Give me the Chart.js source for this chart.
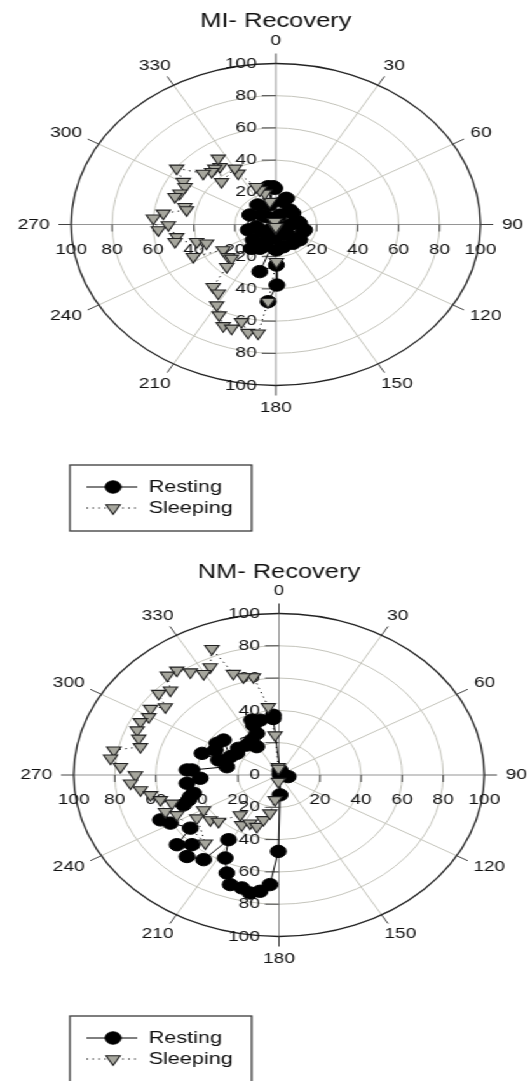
<!DOCTYPE html>
<html lang="en">
<head>
<meta charset="UTF-8">
<title>MI / NM Recovery</title>
<script src="https://cdn.jsdelivr.net/npm/chart.js"></script>
<style>
  body { margin: 0; background: #fff; }
  /* the figure is a polar plot stretched sideways, so draw it round and stretch it */
  #wrap { width: 417px; transform: scaleX(1.271); transform-origin: 0 0; }
  canvas { display: block; }
</style>
</head>
<body>
<div id="wrap">
  <canvas id="miChart" width="417" height="551"></canvas>
  <canvas id="nmChart" width="417" height="530"></canvas>
</div>
<script>
// angle ticks, degrees clockwise from north
const angleTicks = [0, 30, 60, 90, 120, 150, 180, 210, 240, 270, 300, 330];
const radialTicks = [0, 20, 40, 60, 80, 100];
const seriesNames = ['Resting', 'Sleeping'];

// MI- Recovery
const miRestAngle = [150, 350.8, 358.7, 14.2, 37, 81, 108.7, 133.5, 165.4, 204.2, 218.8, 255.9, 261.5, 316.8, 324, 295, 18.7, 50.2, 86.6, 103.6, 129, 144.3, 138, 179, 202, 207.8, 229, 235, 220, 137, 92.5, 17.7, 356.8, 346.5, 311, 180, 195, 179.3, 179.2, 184.5];
const miRestRadius = [1, 23.8, 22.5, 14.6, 11.3, 11, 14, 13.9, 14.3, 15.1, 19, 13.9, 9.5, 6.6, 15, 14, 6.2, 10.9, 11.7, 14.5, 15.1, 14.4, 8.8, 15.8, 10.4, 16.7, 14.7, 8.3, 4.5, 6.4, 6.8, 17.1, 23.5, 12.5, 9, 8.4, 30.3, 25.2, 37.6, 48.1];
const miSleepAngle = [180, 344, 348.5, 344.5, 340, 338, 330, 330.2, 315, 322.7, 319.5, 316.3, 325.6, 311.8, 305.8, 300.5, 297.9, 292.5, 289.3, 284, 281.7, 277.2, 273.7, 266.6, 269.7, 261, 257.8, 254.5, 251, 243.6, 238.4, 229.4, 225.8, 222.5, 218.4, 213.4, 210, 206.2, 202.2, 198.5, 195.5, 191.4, 187.3, 184.5, 179.2, 180];
const miSleepRadius = [2.2, 1.8, 14.5, 20.1, 22.8, 25.3, 36.7, 40.2, 37.5, 45.1, 45.9, 45.4, 49.8, 47.6, 59.7, 52.5, 50.2, 50.7, 52.2, 45.8, 44.5, 55.4, 60, 57.5, 52.5, 49, 50.4, 40.1, 35.8, 45, 30.2, 30.7, 30.1, 35.5, 49.3, 51.1, 57.8, 62.7, 68, 68, 62.7, 68.5, 68.1, 48.1, 23.1, 1.4];

// NM- Recovery
const nmRestAngle = [26, 102.5, 9, 355.4, 355.7, 344.9, 338.6, 338, 337.2, 328.4, 319.7, 328.3, 309.8, 303.2, 295.4, 308.7, 303, 296.3, 289.7, 287.5, 281.4, 274.2, 274, 267, 263.5, 254.8, 252.8, 250.7, 248.3, 240.6, 244.3, 232.7, 229, 224.5, 221.6, 215, 211.5, 207, 202.7, 199.3, 194.5, 190.9, 187.3, 183.7, 180.4, 177.7, 90];
const nmRestRadius = [1.1, 4.6, 3.1, 35.1, 37.1, 35.2, 36.5, 33.3, 27.9, 25.4, 24.3, 20.6, 25.8, 24.5, 26.3, 34.6, 36, 34.7, 39.8, 30.9, 25.9, 42.5, 44.9, 38.4, 45.1, 43.1, 45.2, 46.6, 50, 60.7, 64.1, 54.3, 65.8, 60.5, 67.5, 64, 47, 57.7, 65.8, 71.9, 72.2, 74.4, 72.6, 68, 47.3, 12.3, 0.6];
const nmSleepAngle = [356.6, 355.6, 353, 348.4, 344.1, 340.5, 337.3, 333.4, 329.7, 325.9, 322.5, 318.6, 314.8, 310.7, 307.3, 303.3, 299.6, 296, 291.9, 288.4, 284.5, 280.8, 277.2, 273.8, 270, 266, 262.2, 258.9, 255.1, 251.4, 247.7, 243.6, 220.4, 236.3, 239.5, 230.3, 225.7, 217.4, 210.4, 205.3, 198.7, 195.3, 190.6, 187, 184, 356];
const nmSleepRadius = [5.1, 24.8, 42.5, 62, 63.1, 66.6, 84.8, 74.8, 72.7, 77, 81.7, 82.3, 74.5, 77.3, 69.6, 74.9, 72.9, 75.1, 74.5, 72, 69.7, 81.9, 82.7, 77.4, 69.9, 72.5, 68.1, 63.8, 59.8, 55, 59.8, 55.5, 55.4, 48.1, 42.6, 43.5, 41.2, 31.1, 35.8, 33, 33.7, 28.8, 24, 15.5, 4.1, 4.1];

const FONT = '"Liberation Sans", Arial, sans-serif';

function toXY(angles, radii) {
    return angles.map((a, i) => {
        const t = a * Math.PI / 180;
        return { x: radii[i] * Math.sin(t), y: radii[i] * Math.cos(t) };
    });
}

// polar grid, labels, title and boxed legend
const polarGrid = {
    id: 'polarGrid',
    beforeDatasetsDraw(chart, args, opts) {
        const { ctx, scales: { x, y } } = chart;
        const cx = x.getPixelForValue(0), cy = y.getPixelForValue(0);
        const rx = x.getPixelForValue(100) - cx, ry = cy - y.getPixelForValue(100);
        ctx.save();
        ctx.lineWidth = 1;
        ctx.strokeStyle = '#c4c4bb';
        radialTicks.forEach(v => {
            if (v === 0 || v === 100) return;
            ctx.beginPath();
            ctx.ellipse(cx, cy, rx * v / 100, ry * v / 100, 0, 0, 2 * Math.PI);
            ctx.stroke();
        });
        angleTicks.forEach(a => {
            if (a % 90 === 0) return;
            const t = a * Math.PI / 180;
            ctx.beginPath();
            ctx.moveTo(cx, cy);
            ctx.lineTo(cx + rx * Math.sin(t), cy - ry * Math.cos(t));
            ctx.stroke();
        });
        ctx.strokeStyle = '#959595';
        ctx.beginPath();
        ctx.moveTo(cx - rx, cy); ctx.lineTo(cx + rx, cy);
        ctx.moveTo(cx, cy - ry); ctx.lineTo(cx, cy + ry);
        ctx.stroke();

        ctx.strokeStyle = '#222';
        ctx.lineWidth = 1.3;
        ctx.beginPath();
        ctx.ellipse(cx, cy, rx, ry, 0, 0, 2 * Math.PI);
        ctx.stroke();

        // ticks outside the rim and on the axes
        ctx.strokeStyle = '#444';
        ctx.lineWidth = 1;
        ctx.beginPath();
        angleTicks.forEach(a => {
            const t = a * Math.PI / 180, s = Math.sin(t), c = Math.cos(t);
            ctx.moveTo(cx + rx * s, cy - ry * c);
            ctx.lineTo(cx + (rx + 10) * s, cy - (ry + 10) * c);
        });
        radialTicks.forEach(v => {
            if (v === 0 || v === 100) return;
            const dx = rx * v / 100, dy = ry * v / 100;
            ctx.moveTo(cx - 11, cy - dy); ctx.lineTo(cx, cy - dy);
            ctx.moveTo(cx - 11, cy + dy); ctx.lineTo(cx, cy + dy);
            ctx.moveTo(cx - dx, cy); ctx.lineTo(cx - dx, cy + 7);
            ctx.moveTo(cx + dx, cy); ctx.lineTo(cx + dx, cy + 7);
        });
        ctx.stroke();

        ctx.fillStyle = '#111';
        ctx.font = '15px ' + FONT;
        ctx.textBaseline = 'middle';
        ctx.textAlign = 'right';
        radialTicks.forEach(v => {
            ctx.fillText(String(v), cx - 15, cy - ry * v / 100);
            if (v) ctx.fillText(String(v), cx - 15, cy + ry * v / 100);
        });
        ctx.textAlign = 'center';
        radialTicks.forEach(v => {
            if (!v) return;
            ctx.fillText(String(v), cx - rx * v / 100, cy + 25);
            ctx.fillText(String(v), cx + rx * v / 100, cy + 25);
        });
        angleTicks.forEach(a => {
            const t = a * Math.PI / 180, s = Math.sin(t), c = Math.cos(t);
            const txt = String(a);
            const hw = ctx.measureText(txt).width / 2;
            ctx.fillText(txt, cx + s * (rx + 17 + hw), cy - c * (ry + 17 + 5.5));
        });

        ctx.font = '20px ' + FONT;
        ctx.textBaseline = 'alphabetic';
        ctx.fillText(opts.title, cx, 27);
        ctx.restore();
    },
    afterDraw(chart) {
        const ctx = chart.ctx;
        const ds = chart.data.datasets;
        ctx.save();
        ctx.strokeStyle = '#3a3a3a';
        ctx.lineWidth = 1.3;
        ctx.strokeRect(55, 465, 143, 66);
        ds.forEach((d, i) => {
            const ly = 487 + i * 21;
            ctx.strokeStyle = d.borderColor;
            ctx.lineWidth = d.borderWidth;
            ctx.setLineDash(d.borderDash || []);
            ctx.beginPath();
            ctx.moveTo(68, ly); ctx.lineTo(108, ly);
            ctx.stroke();
            ctx.setLineDash([]);
            ctx.fillStyle = d.pointBackgroundColor;
            ctx.strokeStyle = d.pointBorderColor;
            ctx.lineWidth = d.pointBorderWidth;
            Chart.helpers.drawPoint(ctx, {
                pointStyle: d.pointStyle, radius: d.pointRadius,
                rotation: d.pointRotation || 0, borderWidth: d.pointBorderWidth
            }, 89, ly);
            ctx.fillStyle = '#111';
            ctx.font = '17px ' + FONT;
            ctx.textAlign = 'left';
            ctx.textBaseline = 'middle';
            ctx.fillText(d.label, 117, ly);
        });
        ctx.restore();
    }
};

function makeChart(id, title, restA, restR, sleepA, sleepR, pad) {
    return new Chart(document.getElementById(id), {
        type: 'scatter',
        data: {
            datasets: [{
                label: seriesNames[0],
                data: toXY(restA, restR),
                showLine: true,
                borderColor: '#000',
                borderWidth: 1,
                pointStyle: 'circle',
                pointRadius: 6.2,
                pointBackgroundColor: '#000',
                pointBorderColor: '#000',
                pointBorderWidth: 1,
                order: 1
            }, {
                label: seriesNames[1],
                data: toXY(sleepA, sleepR),
                showLine: true,
                borderColor: '#000',
                borderWidth: 1,
                borderDash: [1.2, 3.5],
                pointStyle: 'triangle',
                pointRotation: 180,
                pointRadius: 6.4,
                pointBackgroundColor: '#a6a69d',
                pointBorderColor: '#222',
                pointBorderWidth: 1.1,
                order: 0
            }]
        },
        options: {
            responsive: false,
            animation: false,
            events: [],
            layout: { padding: pad },
            scales: {
                x: { type: 'linear', min: -100, max: 100, display: false },
                y: { type: 'linear', min: -100, max: 100, display: false }
            },
            plugins: {
                legend: { display: false },
                tooltip: { enabled: false },
                polarGrid: { title: title }
            }
        },
        plugins: [polarGrid]
    });
}

makeChart('miChart', 'MI- Recovery', miRestAngle, miRestRadius, miSleepAngle, miSleepRadius,
    { left: 56, right: 39, top: 63.5, bottom: 165.5 });
makeChart('nmChart', 'NM- Recovery', nmRestAngle, nmRestRadius, nmSleepAngle, nmSleepRadius,
    { left: 58, right: 36, top: 62.5, bottom: 144.5 });
</script>
</body>
</html>
